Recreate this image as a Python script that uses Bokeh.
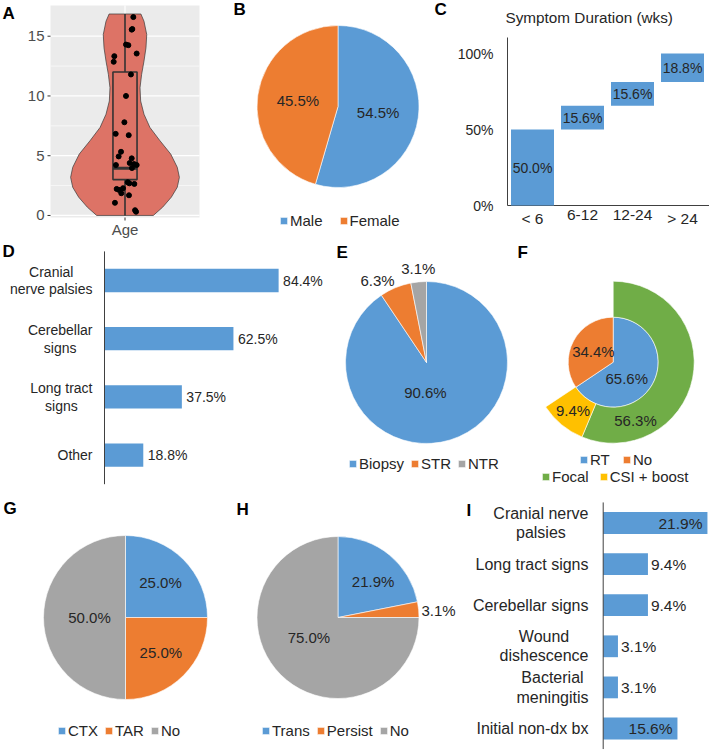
import numpy as np
from bokeh.plotting import figure
from bokeh.layouts import row, column
from bokeh.models import Range1d, Label, Legend, LegendItem
from bokeh.core.properties import value
from bokeh.embed import file_html
from bokeh.resources import INLINE

# ------------------------------------------------------------------ data
# A: age (years), with the horizontal jitter of each dot as seen in the picture
age_years = [16.6, 15.6, 15.55, 14.3, 14.25, 13.55, 13.33, 12.86, 11.8, 10.0,
             7.8, 6.83, 6.72, 5.33, 4.94, 4.78, 4.22, 4.39, 4.3, 4.22,
             3.97, 2.78, 2.69, 2.64, 2.22, 2.14, 2.28, 1.86, 1.69, 1.06,
             0.44, 0.31]
age_jitter = [0.067, 0.059, 0.054, 0.008, 0.027, 0.094, -0.086, -0.091, 0.048, 0.008,
              -0.005, -0.075, 0.030, -0.032, -0.051, 0.054, -0.073, 0.038, 0.073, 0.094,
              0.056, 0.022, 0.035, 0.075, -0.067, -0.048, -0.016, -0.030, 0.032, -0.081,
              0.081, 0.089]
violin_y = [16.86, 16.25, 15.14, 14.03, 12.92, 11.81, 10.69, 9.58, 8.47, 7.36,
            6.25, 5.14, 4.03, 3.19, 2.36, 1.53, 0.69, 0.0]
violin_half_width = [0.128, 0.153, 0.175, 0.169, 0.153, 0.134, 0.121, 0.126, 0.153, 0.201,
                     0.282, 0.368, 0.421, 0.438, 0.421, 0.373, 0.303, 0.228]
age_box_stats = [0.0, 3.0, 3.95, 12.0, 16.86]   # low whisker, q1, median, q3, high whisker
age_ticks = [0, 5, 10, 15]
age_minor_ticks = [2.5, 7.5, 12.5]
age_category = "Age"

# B: sex
sex_labels = ["Male", "Female"]
sex_pct = [54.5, 45.5]

# C: symptom duration (weeks)
dur_title = "Symptom Duration (wks)"
dur_labels = ["< 6", "6-12", "12-24", "> 24"]
dur_pct = [50.0, 15.6, 15.6, 18.8]
dur_ticks = [0, 50, 100]

# D: presenting signs
sym_labels = ["Cranial\nnerve palsies", "Cerebellar\nsigns", "Long tract\nsigns", "Other"]
sym_pct = [84.4, 62.5, 37.5, 18.8]

# E: resection
res_labels = ["Biopsy", "STR", "NTR"]
res_pct = [90.6, 6.3, 3.1]

# F: radiotherapy (inner ring) and its field (outer ring)
rt_labels = ["RT", "No"]
rt_pct = [65.6, 34.4]
field_labels = ["Focal", "CSI + boost"]
field_pct = [56.3, 9.4]

# G
chemo_labels = ["CTX", "TAR", "No"]
chemo_pct = [25.0, 25.0, 50.0]

# H
hydro_labels = ["Trans", "Persist", "No"]
hydro_pct = [21.9, 3.1, 75.0]

# I: complications
comp_labels = ["Cranial nerve\npalsies", "Long tract signs", "Cerebellar signs",
               "Wound\ndishescence", "Bacterial\nmeningitis", "Initial non-dx bx"]
comp_pct = [21.9, 9.4, 9.4, 3.1, 3.1, 15.6]

# ------------------------------------------------------------------ style
FONT = "Liberation Sans"
def fs(px):
    return f"{px:.1f}px"

BLUE, ORANGE, GRAY, YELLOW, GREEN = "#5B9BD5", "#ED7D31", "#A5A5A5", "#FFC000", "#70AD47"
TXT = "#262626"
AXC = "#404040"


class Panel:
    """One panel: its box on the page (pixels) and a linear pixel -> data map."""
    def __init__(self, x0, y0, x1, y1, X, Y):
        self.x0, self.y0, self.x1, self.y1 = x0, y0, x1, y1
        self.X, self.Y = X, Y
        p = figure(width=x1 - x0, height=y1 - y0, title=None,
                   x_range=Range1d(X(x0), X(x1)), y_range=Range1d(Y(y1), Y(y0)),
                   output_backend="svg", toolbar_location=None,
                   min_border=0, min_border_left=0, min_border_right=0,
                   min_border_top=0, min_border_bottom=0,
                   x_axis_location=None, y_axis_location=None)
        p.xgrid.visible = False
        p.ygrid.visible = False
        p.outline_line_color = None
        p.background_fill_color = "white"
        p.border_fill_color = "white"
        self.p = p

    def letter(self, t, rx, ry):
        self.p.add_layout(Label(x=rx - self.x0, y=self.y1 - ry, x_units="screen",
                                y_units="screen", text=t, text_font=FONT,
                                text_font_style="bold", text_font_size=fs(17),
                                text_color="black", text_baseline="middle",
                                text_align="left"))

    def legend(self, rend, labels, idxs, left, cy, spacing):
        items = [LegendItem(label=lab, renderers=[rend], index=i)
                 for lab, i in zip(labels, idxs)]
        leg = Legend(items=items, orientation="horizontal",
                     location=(left - self.x0, self.y1 - cy - 8.5),
                     glyph_width=9, glyph_height=9, label_height=9, label_standoff=2,
                     spacing=spacing, padding=0, margin=0,
                     border_line_color=None, background_fill_alpha=0,
                     label_text_font=FONT, label_text_font_size=fs(15),
                     label_text_color=TXT, label_text_baseline="middle")
        self.p.add_layout(leg)


def pie_panel(x0, y0, x1, y1, cx, cy):
    return Panel(x0, y0, x1, y1, lambda px: px - cx, lambda py: cy - py)


def slice_angles(pcts, total=100.0):
    cum = np.concatenate([[0.0], np.cumsum(pcts)]) / total
    start = np.pi / 2 - 2 * np.pi * cum[1:]
    end = np.pi / 2 - 2 * np.pi * cum[:-1]
    return start, end, (start + end) / 2


def pie_labels(p, pcts, mids, radii, dx=None, dy=None, size=15):
    n = len(pcts)
    dx = dx or [0] * n
    dy = dy or [0] * n
    xs = [r * np.cos(m) + a for r, m, a in zip(radii, mids, dx)]
    ys = [r * np.sin(m) + c for r, m, c in zip(radii, mids, dy)]
    p.text(x=xs, y=ys, text=[f"{v:.1f}%" for v in pcts], text_align="center",
           text_baseline="middle", text_font=value(FONT), text_font_size=value(fs(size)),
           text_color=TXT)


# ================================================================== A
A_XLIM = (0.4, 1.6)
A_YLIM = (-0.17, 17.57)
A_FRAME = (50, 5, 199, 217)          # left, top, right, bottom in pixels
a_ppx = (A_FRAME[2] - A_FRAME[0]) / (A_XLIM[1] - A_XLIM[0])
a_ppy = (A_FRAME[3] - A_FRAME[1]) / (A_YLIM[1] - A_YLIM[0])
PA = Panel(0, 0, 210, 242,
           lambda px: A_XLIM[0] + (px - A_FRAME[0]) / a_ppx,
           lambda py: A_YLIM[0] + (A_FRAME[3] - py) / a_ppy)
pA = PA.p
pA.quad(left=[A_XLIM[0]], right=[A_XLIM[1]], bottom=[A_YLIM[0]], top=[A_YLIM[1]],
        fill_color="#EBEBEB", line_color=None)
pA.segment(x0=A_XLIM[0], y0=age_minor_ticks, x1=A_XLIM[1], y1=age_minor_ticks,
           line_color="white", line_width=0.6)
pA.segment(x0=A_XLIM[0], y0=age_ticks, x1=A_XLIM[1], y1=age_ticks,
           line_color="white", line_width=1.2)
pA.segment(x0=[1], y0=[A_YLIM[0]], x1=[1], y1=[A_YLIM[1]], line_color="white", line_width=1.2)
# ticks and labels
pA.segment(x0=A_XLIM[0] - 3 / a_ppx, y0=age_ticks, x1=A_XLIM[0], y1=age_ticks,
           line_color="#333333", line_width=1)
pA.segment(x0=[1], y0=[A_YLIM[0] - 3 / a_ppy], x1=[1], y1=[A_YLIM[0]],
           line_color="#333333", line_width=1)
pA.text(x=A_XLIM[0], y=age_ticks, text=[str(t) for t in age_ticks], x_offset=-6,
        text_align="right", text_baseline="middle", text_font=value(FONT),
        text_font_size=value(fs(15)), text_color="#4D4D4D")
pA.text(x=[1], y=[A_YLIM[0]], text=[age_category], y_offset=3, text_align="center",
        text_baseline="top", text_font=value(FONT), text_font_size=value(fs(15)),
        text_color="#4D4D4D")

vx = [1 - h for h in violin_half_width] + [1 + h for h in violin_half_width[::-1]]
vy = list(violin_y) + list(violin_y[::-1])
pA.patch(vx, vy, fill_color="#DD7366", line_color="#3a3a3a", line_width=0.7)
lo, q1, med, q3, hi = age_box_stats
bw = 0.097
pA.segment(x0=[1, 1], y0=[q3, q1], x1=[1, 1], y1=[hi, lo], line_color="#333333", line_width=1.6)
pA.quad(left=[1 - bw], right=[1 + bw], bottom=[q1], top=[q3], fill_color=None,
        line_color="#333333", line_width=1.6)
pA.segment(x0=[1 - bw], y0=[med], x1=[1 + bw], y1=[med], line_color="#333333", line_width=3.2)
pA.scatter(x=[1 + j for j in age_jitter], y=age_years, size=5, color="black")
PA.letter("A", 2, 12.5)

# ================================================================== B
PB = pie_panel(210, 0, 430, 242, 337.5, 106)
s, e, m = slice_angles(sex_pct)
rB = PB.p.wedge(x=0, y=0, radius=81, start_angle=s, end_angle=e,
                fill_color=[BLUE, ORANGE], line_color="white", line_width=0.6)
pie_labels(PB.p, sex_pct, m, [40.5, 40.5])
PB.legend(rB, sex_labels, [0, 1], 279, 220, 16)
PB.letter("B", 233, 9)

# ================================================================== C
c_c0, c_step, c_zero, c_ppu = 532.0, 50.0, 205.0, 1.52
PC = Panel(430, 0, 709, 242, lambda px: (px - c_c0) / c_step, lambda py: (c_zero - py) / c_ppu)
pC = PC.p
idx = list(range(len(dur_pct)))
c_left, c_top = PC.X(507), PC.Y(37)
pC.segment(x0=[c_left, c_left], y0=[0, 0], x1=[c_left, PC.X(709)], y1=[c_top, 0],
           line_color=AXC, line_width=1)
bottoms = list(np.concatenate([[0.0], np.cumsum(dur_pct)[:-1]]))
tops = [b_ + v for b_, v in zip(bottoms, dur_pct)]
pC.vbar(x=idx, bottom=bottoms, top=tops, width=0.86, fill_color=BLUE, line_color=None)
pC.text(x=idx, y=[(b_ + t) / 2 for b_, t in zip(bottoms, tops)],
        text=[f"{v:.1f}%" for v in dur_pct], text_align="center", text_baseline="middle",
        text_font=value(FONT), text_font_size=value(fs(14)), text_color=TXT)
pC.text(x=c_left, y=dur_ticks, text=[f"{t}%" for t in dur_ticks], x_offset=-14,
        text_align="right", text_baseline="middle", text_font=value(FONT),
        text_font_size=value(fs(14)), text_color=TXT)
pC.text(x=idx, y=0, text=dur_labels, y_offset=4, text_align="center", text_baseline="top",
        text_font=value(FONT), text_font_size=value(fs(15.5)), text_color=TXT)
pC.text(x=[PC.X(505)], y=[PC.Y(17)], text=[dur_title], text_align="left",
        text_baseline="middle", text_font=value(FONT), text_font_size=value(fs(15.3)),
        text_color=TXT)
PC.letter("C", 434, 9)

# ================================================================== D
d_zero, d_ppu, d_c0, d_step = 104.0, 2.063, 280.0, 58.2
PD = Panel(0, 242, 330, 490, lambda px: (px - d_zero) / d_ppu, lambda py: (py - d_c0) / d_step)
pD = PD.p
yi = list(range(len(sym_pct)))
pD.hbar(y=yi, left=0, right=sym_pct, height=0.4, fill_color=BLUE, line_color=None)
pD.segment(x0=[0], y0=[-0.5], x1=[0], y1=[len(sym_pct) - 0.5], line_color=AXC, line_width=1)
pD.text(x=sym_pct, y=yi, text=[f"{v:.1f}%" for v in sym_pct], x_offset=4.5,
        text_align="left", text_baseline="middle", text_font=value(FONT),
        text_font_size=value(fs(14)), text_color=TXT)
pD.text(x=0, y=yi, text=sym_labels, x_offset=-12, anchor=value("center_right"),
        text_align="center", text_baseline="middle", text_line_height=1.12,
        text_font=value(FONT), text_font_size=value(fs(14)), text_color=TXT)
PD.letter("D", 2, 251)

# ================================================================== E
PE = pie_panel(330, 242, 512, 490, 426, 362)
s, e, m = slice_angles(res_pct)
rE = PE.p.wedge(x=0, y=0, radius=81, start_angle=s, end_angle=e,
                fill_color=[BLUE, ORANGE, GRAY], line_color="white", line_width=0.6)
pie_labels(PE.p, res_pct, m, [30, 95.6, 94], dx=[-9.8, -12.4, 1], dy=[-1.3, -6.3, 0])
PE.legend(rE, res_labels, [0, 1, 2], 348, 463, 6)
PE.letter("E", 336, 252)

# ================================================================== F
PF = pie_panel(512, 242, 709, 490, 612.7, 361.7)
R_IN, R_OUT = 45, 81
s, e, m = slice_angles(rt_pct)
rF1 = PF.p.wedge(x=0, y=0, radius=R_IN, start_angle=s, end_angle=e,
                 fill_color=[BLUE, ORANGE], line_color="white", line_width=0.6)
pie_labels(PF.p, rt_pct, m, [21, 22.4], dx=[-5, 0], dy=[-6, 0])
s2, e2, m2 = slice_angles(field_pct)
rF2 = PF.p.annular_wedge(x=0, y=0, inner_radius=R_IN, outer_radius=R_OUT, start_angle=s2,
                         end_angle=e2, fill_color=[GREEN, YELLOW], line_color="white",
                         line_width=0.6)
pie_labels(PF.p, field_pct, m2, [63, 63], dx=[-39.5, 0], dy=[-46, 0])
PF.legend(rF1, rt_labels, [0, 1], 579, 459, 12)
PF.legend(rF2, field_labels, [0, 1], 541, 476, 10)
PF.letter("F", 517, 252)

# ================================================================== G
PG = pie_panel(0, 490, 232, 750, 125, 617)
s, e, m = slice_angles(chemo_pct)
rG = PG.p.wedge(x=0, y=0, radius=82, start_angle=s, end_angle=e,
                fill_color=[BLUE, ORANGE, GRAY], line_color="white", line_width=0.6)
pie_labels(PG.p, chemo_pct, m, [49.5, 50, 36])
PG.legend(rG, chemo_labels, [0, 1, 2], 57, 730, 6)
PG.letter("G", 3, 507.5)

# ================================================================== H
PH = pie_panel(232, 490, 462, 750, 337.5, 617)
s, e, m = slice_angles(hydro_pct)
rH = PH.p.wedge(x=0, y=0, radius=81, start_angle=s, end_angle=e,
                fill_color=[BLUE, ORANGE, GRAY], line_color="white", line_width=0.6)
pie_labels(PH.p, hydro_pct, m, [50.6, 100, 35.5], dx=[3, 1, -4], dy=[-3, -3, 5])
PH.legend(rH, hydro_labels, [0, 1, 2], 261, 730, 6)
PH.letter("H", 236, 509)

# ================================================================== I
i_zero, i_ppu, i_c0, i_step = 602.7, 4.76, 522.5, 41.1
PI = Panel(462, 490, 709, 750, lambda px: (px - i_zero) / i_ppu, lambda py: (py - i_c0) / i_step)
pI = PI.p
yi = list(range(len(comp_pct)))
pI.hbar(y=yi, left=0, right=comp_pct, height=0.53, fill_color=BLUE, line_color=None)
pI.segment(x0=[0], y0=[-0.5], x1=[0], y1=[len(comp_pct) - 0.5], line_color=AXC, line_width=1)
inside = [v > 12 for v in comp_pct]
yin = [y for y, f in zip(yi, inside) if f]
vin = [v for v, f in zip(comp_pct, inside) if f]
yout = [y for y, f in zip(yi, inside) if not f]
vout = [v for v, f in zip(comp_pct, inside) if not f]
pI.text(x=vin, y=yin, text=[f"{v:.1f}%" for v in vin], x_offset=-5,
        text_align="right", text_baseline="middle", text_font=value(FONT),
        text_font_size=value(fs(15.5)), text_color=TXT)
pI.text(x=vout, y=yout, text=[f"{v:.1f}%" for v in vout], x_offset=3,
        text_align="left", text_baseline="middle", text_font=value(FONT),
        text_font_size=value(fs(15.5)), text_color=TXT)
pI.text(x=0, y=yi, text=comp_labels, x_offset=-14.7, anchor=value("center_right"),
        text_align="center", text_baseline="middle", text_line_height=1.14,
        text_font=value(FONT), text_font_size=value(fs(16)), text_color=TXT)
PI.letter("I", 466, 510)

layout = column(row(PA.p, PB.p, PC.p), row(PD.p, PE.p, PF.p), row(PG.p, PH.p, PI.p))
open("out.html", "w").write(file_html(layout, INLINE))
